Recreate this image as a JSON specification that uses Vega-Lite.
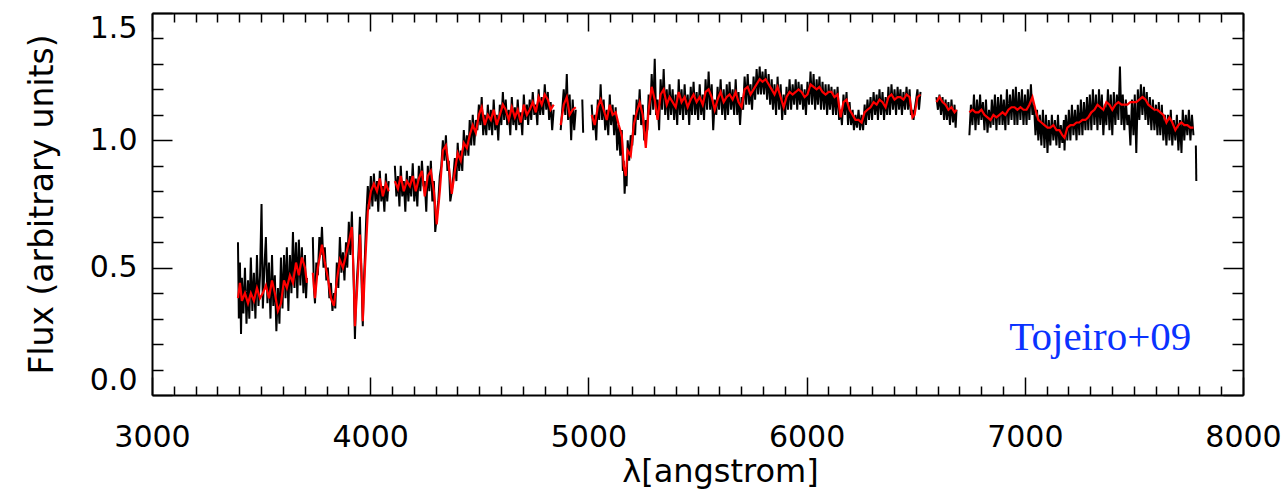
{
"$schema": "https://vega.github.io/schema/vega-lite/v6.json",
"width": 1091, "height": 382,
"autosize": "none",
"padding": {"left": 152, "top": 13, "right": 45, "bottom": 97},
"background": "white",
"config": {"view": {"stroke": null}, "font": "DejaVu Sans"},
"datasets": {
"obs": [
{"w":3394,"f":0.60,"g":1},{"w":3398,"f":0.30,"g":1},{"w":3403,"f":0.52,"g":1},{"w":3408,"f":0.24,"g":1},{"w":3412,"f":0.46,"g":1},{"w":3419,"f":0.32,"g":1},{"w":3426,"f":0.50,"g":1},{"w":3433,"f":0.28,"g":1},{"w":3440,"f":0.45,"g":1},{"w":3446,"f":0.30,"g":1},{"w":3453,"f":0.54,"g":1},{"w":3460,"f":0.33,"g":1},{"w":3467,"f":0.48,"g":1},{"w":3474,"f":0.30,"g":1},{"w":3481,"f":0.55,"g":1},{"w":3488,"f":0.35,"g":1},{"w":3495,"f":0.47,"g":1},{"w":3502,"f":0.75,"g":1},{"w":3508,"f":0.34,"g":1},{"w":3515,"f":0.50,"g":1},{"w":3522,"f":0.62,"g":1},{"w":3529,"f":0.36,"g":1},{"w":3536,"f":0.52,"g":1},{"w":3543,"f":0.30,"g":1},{"w":3550,"f":0.55,"g":1},{"w":3556,"f":0.35,"g":1},{"w":3563,"f":0.47,"g":1},{"w":3570,"f":0.25,"g":1},{"w":3577,"f":0.42,"g":1},{"w":3584,"f":0.28,"g":1},{"w":3591,"f":0.54,"g":1},{"w":3598,"f":0.34,"g":1},{"w":3605,"f":0.55,"g":1},{"w":3612,"f":0.38,"g":1},{"w":3618,"f":0.58,"g":1},{"w":3625,"f":0.33,"g":1},{"w":3632,"f":0.55,"g":1},{"w":3639,"f":0.40,"g":1},{"w":3646,"f":0.64,"g":1},{"w":3653,"f":0.42,"g":1},{"w":3660,"f":0.60,"g":1},{"w":3666,"f":0.38,"g":1},{"w":3673,"f":0.61,"g":1},{"w":3680,"f":0.43,"g":1},{"w":3687,"f":0.58,"g":1},{"w":3694,"f":0.40,"g":1},{"w":3701,"f":0.55,"g":1},{"w":3706,"f":0.38,"g":1},{"w":3710,"f":0.46,"g":1},
{"w":3737,"f":0.62,"g":2},{"w":3742,"f":0.42,"g":2},{"w":3747,"f":0.36,"g":2},{"w":3753,"f":0.52,"g":2},{"w":3760,"f":0.47,"g":2},{"w":3767,"f":0.62,"g":2},{"w":3773,"f":0.55,"g":2},{"w":3779,"f":0.66,"g":2},{"w":3786,"f":0.50,"g":2},{"w":3792,"f":0.58,"g":2},{"w":3799,"f":0.45,"g":2},{"w":3806,"f":0.50,"g":2},{"w":3813,"f":0.38,"g":2},{"w":3820,"f":0.44,"g":2},{"w":3827,"f":0.33,"g":2},{"w":3834,"f":0.40,"g":2},{"w":3840,"f":0.34,"g":2},{"w":3847,"f":0.52,"g":2},{"w":3854,"f":0.42,"g":2},{"w":3861,"f":0.62,"g":2},{"w":3868,"f":0.48,"g":2},{"w":3875,"f":0.56,"g":2},{"w":3882,"f":0.45,"g":2},{"w":3889,"f":0.60,"g":2},{"w":3895,"f":0.50,"g":2},{"w":3902,"f":0.68,"g":2},{"w":3909,"f":0.55,"g":2},{"w":3916,"f":0.72,"g":2},{"w":3920,"f":0.58,"g":2},{"w":3925,"f":0.42,"g":2},{"w":3930,"f":0.22,"g":2},{"w":3934,"f":0.35,"g":2},{"w":3939,"f":0.45,"g":2},{"w":3946,"f":0.55,"g":2},{"w":3953,"f":0.70,"g":2},{"w":3957,"f":0.55,"g":2},{"w":3962,"f":0.40,"g":2},{"w":3966,"f":0.27,"g":2},{"w":3970,"f":0.42,"g":2},{"w":3976,"f":0.55,"g":2},{"w":3982,"f":0.70,"g":2},{"w":3989,"f":0.82,"g":2},{"w":3996,"f":0.73,"g":2},{"w":4003,"f":0.86,"g":2},{"w":4010,"f":0.74,"g":2},{"w":4017,"f":0.87,"g":2},{"w":4024,"f":0.76,"g":2},{"w":4031,"f":0.84,"g":2},{"w":4037,"f":0.72,"g":2},{"w":4044,"f":0.88,"g":2},{"w":4051,"f":0.76,"g":2},{"w":4058,"f":0.82,"g":2},{"w":4065,"f":0.72,"g":2},{"w":4072,"f":0.87,"g":2},{"w":4078,"f":0.76,"g":2},{"w":4085,"f":0.84,"g":2},
{"w":4113,"f":0.90,"g":3},{"w":4120,"f":0.78,"g":3},{"w":4127,"f":0.86,"g":3},{"w":4134,"f":0.74,"g":3},{"w":4140,"f":0.90,"g":3},{"w":4147,"f":0.78,"g":3},{"w":4154,"f":0.84,"g":3},{"w":4161,"f":0.72,"g":3},{"w":4168,"f":0.88,"g":3},{"w":4175,"f":0.76,"g":3},{"w":4182,"f":0.86,"g":3},{"w":4188,"f":0.78,"g":3},{"w":4195,"f":0.91,"g":3},{"w":4202,"f":0.76,"g":3},{"w":4209,"f":0.85,"g":3},{"w":4216,"f":0.74,"g":3},{"w":4223,"f":0.90,"g":3},{"w":4230,"f":0.80,"g":3},{"w":4237,"f":0.92,"g":3},{"w":4244,"f":0.82,"g":3},{"w":4250,"f":0.84,"g":3},{"w":4257,"f":0.72,"g":3},{"w":4264,"f":0.90,"g":3},{"w":4271,"f":0.80,"g":3},{"w":4278,"f":0.92,"g":3},{"w":4285,"f":0.76,"g":3},{"w":4292,"f":0.84,"g":3},{"w":4298,"f":0.64,"g":3},{"w":4305,"f":0.70,"g":3},{"w":4312,"f":0.76,"g":3},{"w":4319,"f":0.86,"g":3},{"w":4326,"f":0.90,"g":3},{"w":4333,"f":1.00,"g":3},{"w":4340,"f":0.92,"g":3},{"w":4347,"f":1.02,"g":3},{"w":4354,"f":0.88,"g":3},{"w":4360,"f":0.92,"g":3},{"w":4367,"f":0.76,"g":3},{"w":4374,"f":0.80,"g":3},{"w":4381,"f":0.86,"g":3},{"w":4388,"f":0.93,"g":3},{"w":4395,"f":0.84,"g":3},{"w":4401,"f":0.99,"g":3},{"w":4408,"f":0.88,"g":3},{"w":4415,"f":0.96,"g":3},{"w":4422,"f":0.88,"g":3},{"w":4429,"f":1.04,"g":3},{"w":4436,"f":0.94,"g":3},{"w":4443,"f":1.02,"g":3},{"w":4450,"f":0.94,"g":3},{"w":4456,"f":1.08,"g":3},{"w":4463,"f":0.98,"g":3},{"w":4470,"f":1.10,"g":3},{"w":4477,"f":0.98,"g":3},{"w":4484,"f":1.08,"g":3},{"w":4491,"f":1.04,"g":3},{"w":4498,"f":1.14,"g":3},{"w":4505,"f":1.06,"g":3},{"w":4511,"f":1.17,"g":3},{"w":4518,"f":1.02,"g":3},{"w":4525,"f":1.10,"g":3},{"w":4532,"f":1.02,"g":3},{"w":4539,"f":1.14,"g":3},{"w":4546,"f":1.04,"g":3},{"w":4553,"f":1.12,"g":3},{"w":4559,"f":1.02,"g":3},{"w":4566,"f":1.16,"g":3},{"w":4573,"f":1.04,"g":3},{"w":4580,"f":1.10,"g":3},{"w":4587,"f":1.00,"g":3},{"w":4594,"f":1.14,"g":3},{"w":4601,"f":1.06,"g":3},{"w":4608,"f":1.19,"g":3},{"w":4614,"f":1.08,"g":3},{"w":4621,"f":1.16,"g":3},{"w":4628,"f":1.06,"g":3},{"w":4635,"f":1.12,"g":3},{"w":4642,"f":1.02,"g":3},{"w":4649,"f":1.17,"g":3},{"w":4656,"f":1.06,"g":3},{"w":4663,"f":1.13,"g":3},{"w":4669,"f":1.04,"g":3},{"w":4676,"f":1.16,"g":3},{"w":4683,"f":1.06,"g":3},{"w":4690,"f":1.11,"g":3},{"w":4697,"f":1.02,"g":3},{"w":4704,"f":1.18,"g":3},{"w":4711,"f":1.08,"g":3},{"w":4718,"f":1.14,"g":3},{"w":4724,"f":1.06,"g":3},{"w":4731,"f":1.16,"g":3},{"w":4738,"f":1.08,"g":3},{"w":4745,"f":1.19,"g":3},{"w":4752,"f":1.10,"g":3},{"w":4759,"f":1.14,"g":3},{"w":4766,"f":1.06,"g":3},{"w":4772,"f":1.20,"g":3},{"w":4779,"f":1.10,"g":3},{"w":4786,"f":1.17,"g":3},{"w":4793,"f":1.10,"g":3},{"w":4800,"f":1.22,"g":3},{"w":4807,"f":1.12,"g":3},{"w":4814,"f":1.19,"g":3},{"w":4820,"f":1.08,"g":3},{"w":4827,"f":1.15,"g":3},{"w":4834,"f":1.04,"g":3},{"w":4841,"f":1.12,"g":3},
{"w":4873,"f":1.04,"g":4},{"w":4880,"f":1.12,"g":4},{"w":4887,"f":1.20,"g":4},{"w":4894,"f":1.10,"g":4},{"w":4901,"f":1.26,"g":4},{"w":4907,"f":1.08,"g":4},{"w":4914,"f":1.18,"g":4},{"w":4921,"f":1.00,"g":4},{"w":4928,"f":1.16,"g":4},{"w":4935,"f":1.04,"g":4},{"w":4942,"f":1.12,"g":4},
{"w":4972,"f":1.16,"g":5},{"w":4976,"f":1.03,"g":5},
{"w":5015,"f":1.14,"g":6},{"w":5022,"f":1.04,"g":6},{"w":5029,"f":1.10,"g":6},{"w":5036,"f":1.00,"g":6},{"w":5043,"f":1.16,"g":6},{"w":5050,"f":1.08,"g":6},{"w":5056,"f":1.22,"g":6},{"w":5063,"f":1.08,"g":6},{"w":5070,"f":1.16,"g":6},{"w":5077,"f":1.04,"g":6},{"w":5084,"f":1.12,"g":6},{"w":5091,"f":1.02,"g":6},{"w":5098,"f":1.18,"g":6},{"w":5104,"f":1.06,"g":6},{"w":5111,"f":1.14,"g":6},{"w":5118,"f":1.02,"g":6},{"w":5125,"f":1.13,"g":6},{"w":5132,"f":0.96,"g":6},{"w":5139,"f":1.06,"g":6},{"w":5146,"f":0.94,"g":6},{"w":5153,"f":1.04,"g":6},{"w":5158,"f":0.88,"g":6},{"w":5162,"f":0.92,"g":6},{"w":5166,"f":0.79,"g":6},{"w":5171,"f":0.88,"g":6},{"w":5175,"f":0.82,"g":6},{"w":5180,"f":1.00,"g":6},{"w":5187,"f":0.92,"g":6},{"w":5194,"f":1.02,"g":6},{"w":5201,"f":0.98,"g":6},{"w":5208,"f":1.10,"g":6},{"w":5214,"f":1.02,"g":6},{"w":5221,"f":1.16,"g":6},{"w":5228,"f":1.08,"g":6},{"w":5235,"f":1.20,"g":6},{"w":5242,"f":1.06,"g":6},{"w":5249,"f":1.14,"g":6},{"w":5256,"f":1.00,"g":6},{"w":5263,"f":1.08,"g":6},{"w":5270,"f":1.04,"g":6},{"w":5276,"f":1.18,"g":6},{"w":5283,"f":1.10,"g":6},{"w":5290,"f":1.26,"g":6},{"w":5297,"f":1.12,"g":6},{"w":5304,"f":1.32,"g":6},{"w":5310,"f":1.10,"g":6},{"w":5317,"f":1.16,"g":6},{"w":5324,"f":1.04,"g":6},{"w":5331,"f":1.24,"g":6},{"w":5338,"f":1.12,"g":6},{"w":5345,"f":1.28,"g":6},{"w":5352,"f":1.10,"g":6},{"w":5359,"f":1.20,"g":6},{"w":5366,"f":1.08,"g":6},{"w":5372,"f":1.22,"g":6},{"w":5379,"f":1.10,"g":6},{"w":5386,"f":1.20,"g":6},{"w":5393,"f":1.08,"g":6},{"w":5400,"f":1.18,"g":6},{"w":5407,"f":1.06,"g":6},{"w":5414,"f":1.24,"g":6},{"w":5420,"f":1.10,"g":6},{"w":5427,"f":1.20,"g":6},{"w":5434,"f":1.08,"g":6},{"w":5441,"f":1.22,"g":6},{"w":5448,"f":1.10,"g":6},{"w":5455,"f":1.18,"g":6},{"w":5462,"f":1.06,"g":6},{"w":5469,"f":1.21,"g":6},{"w":5475,"f":1.10,"g":6},{"w":5482,"f":1.23,"g":6},{"w":5489,"f":1.10,"g":6},{"w":5496,"f":1.19,"g":6},{"w":5503,"f":1.08,"g":6},{"w":5510,"f":1.22,"g":6},{"w":5517,"f":1.10,"g":6},{"w":5524,"f":1.18,"g":6},{"w":5530,"f":1.08,"g":6},{"w":5537,"f":1.24,"g":6},{"w":5544,"f":1.12,"g":6},{"w":5551,"f":1.27,"g":6},{"w":5558,"f":1.12,"g":6},{"w":5565,"f":1.22,"g":6},{"w":5572,"f":1.04,"g":6},{"w":5579,"f":1.16,"g":6},{"w":5586,"f":1.10,"g":6},{"w":5592,"f":1.21,"g":6},{"w":5599,"f":1.12,"g":6},{"w":5606,"f":1.24,"g":6},{"w":5613,"f":1.10,"g":6},{"w":5620,"f":1.20,"g":6},{"w":5627,"f":1.08,"g":6},{"w":5634,"f":1.22,"g":6},{"w":5640,"f":1.10,"g":6},{"w":5647,"f":1.23,"g":6},{"w":5654,"f":1.12,"g":6},{"w":5661,"f":1.20,"g":6},{"w":5668,"f":1.10,"g":6},{"w":5675,"f":1.24,"g":6},{"w":5682,"f":1.10,"g":6},{"w":5688,"f":1.19,"g":6},{"w":5695,"f":1.06,"g":6},{"w":5702,"f":1.17,"g":6},{"w":5709,"f":1.12,"g":6},{"w":5716,"f":1.25,"g":6},{"w":5723,"f":1.14,"g":6},{"w":5730,"f":1.26,"g":6},{"w":5737,"f":1.14,"g":6},{"w":5743,"f":1.22,"g":6},{"w":5750,"f":1.12,"g":6},{"w":5757,"f":1.25,"g":6},{"w":5764,"f":1.16,"g":6},{"w":5771,"f":1.28,"g":6},{"w":5778,"f":1.18,"g":6},{"w":5785,"f":1.29,"g":6},{"w":5791,"f":1.18,"g":6},{"w":5798,"f":1.27,"g":6},{"w":5805,"f":1.18,"g":6},{"w":5812,"f":1.28,"g":6},{"w":5819,"f":1.16,"g":6},{"w":5826,"f":1.26,"g":6},{"w":5833,"f":1.14,"g":6},{"w":5840,"f":1.24,"g":6},{"w":5846,"f":1.12,"g":6},{"w":5853,"f":1.22,"g":6},{"w":5860,"f":1.10,"g":6},{"w":5867,"f":1.25,"g":6},{"w":5874,"f":1.12,"g":6},{"w":5881,"f":1.22,"g":6},{"w":5888,"f":1.08,"g":6},{"w":5895,"f":1.18,"g":6},{"w":5902,"f":1.10,"g":6},{"w":5908,"f":1.21,"g":6},{"w":5915,"f":1.12,"g":6},{"w":5922,"f":1.24,"g":6},{"w":5929,"f":1.12,"g":6},{"w":5936,"f":1.22,"g":6},{"w":5943,"f":1.14,"g":6},{"w":5950,"f":1.24,"g":6},{"w":5957,"f":1.12,"g":6},{"w":5963,"f":1.23,"g":6},{"w":5970,"f":1.14,"g":6},{"w":5977,"f":1.22,"g":6},{"w":5984,"f":1.12,"g":6},{"w":5991,"f":1.20,"g":6},{"w":5997,"f":1.10,"g":6},{"w":6004,"f":1.23,"g":6},{"w":6011,"f":1.14,"g":6},{"w":6018,"f":1.27,"g":6},{"w":6025,"f":1.14,"g":6},{"w":6032,"f":1.26,"g":6},{"w":6039,"f":1.12,"g":6},{"w":6046,"f":1.24,"g":6},{"w":6052,"f":1.14,"g":6},{"w":6059,"f":1.25,"g":6},{"w":6066,"f":1.12,"g":6},{"w":6073,"f":1.23,"g":6},{"w":6080,"f":1.12,"g":6},{"w":6087,"f":1.22,"g":6},{"w":6094,"f":1.10,"g":6},{"w":6101,"f":1.22,"g":6},{"w":6107,"f":1.12,"g":6},{"w":6114,"f":1.21,"g":6},{"w":6121,"f":1.10,"g":6},{"w":6128,"f":1.20,"g":6},{"w":6135,"f":1.10,"g":6},{"w":6142,"f":1.21,"g":6},{"w":6149,"f":1.08,"g":6},{"w":6156,"f":1.12,"g":6},{"w":6162,"f":1.06,"g":6},{"w":6169,"f":1.18,"g":6},{"w":6176,"f":1.10,"g":6},{"w":6183,"f":1.19,"g":6},{"w":6190,"f":1.06,"g":6},{"w":6197,"f":1.15,"g":6},{"w":6204,"f":1.06,"g":6},{"w":6211,"f":1.12,"g":6},{"w":6217,"f":1.04,"g":6},{"w":6224,"f":1.10,"g":6},{"w":6231,"f":1.05,"g":6},{"w":6238,"f":1.12,"g":6},{"w":6245,"f":1.04,"g":6},{"w":6252,"f":1.10,"g":6},{"w":6259,"f":1.04,"g":6},{"w":6266,"f":1.14,"g":6},{"w":6272,"f":1.06,"g":6},{"w":6279,"f":1.16,"g":6},{"w":6286,"f":1.08,"g":6},{"w":6293,"f":1.17,"g":6},{"w":6300,"f":1.08,"g":6},{"w":6307,"f":1.19,"g":6},{"w":6314,"f":1.10,"g":6},{"w":6321,"f":1.18,"g":6},{"w":6327,"f":1.08,"g":6},{"w":6334,"f":1.20,"g":6},{"w":6341,"f":1.10,"g":6},{"w":6348,"f":1.19,"g":6},{"w":6355,"f":1.08,"g":6},{"w":6362,"f":1.17,"g":6},{"w":6369,"f":1.10,"g":6},{"w":6375,"f":1.21,"g":6},{"w":6382,"f":1.10,"g":6},{"w":6389,"f":1.22,"g":6},{"w":6396,"f":1.12,"g":6},{"w":6403,"f":1.20,"g":6},{"w":6410,"f":1.10,"g":6},{"w":6417,"f":1.21,"g":6},{"w":6424,"f":1.12,"g":6},{"w":6430,"f":1.20,"g":6},{"w":6437,"f":1.10,"g":6},{"w":6444,"f":1.19,"g":6},{"w":6451,"f":1.12,"g":6},{"w":6458,"f":1.21,"g":6},{"w":6465,"f":1.12,"g":6},{"w":6472,"f":1.20,"g":6},{"w":6478,"f":1.10,"g":6},{"w":6485,"f":1.12,"g":6},{"w":6490,"f":1.08,"g":6},{"w":6495,"f":1.12,"g":6},{"w":6502,"f":1.16,"g":6},{"w":6508,"f":1.20,"g":6},{"w":6515,"f":1.12,"g":6},{"w":6522,"f":1.19,"g":6},
{"w":6595,"f":1.17,"g":7},{"w":6602,"f":1.12,"g":7},{"w":6609,"f":1.18,"g":7},{"w":6616,"f":1.10,"g":7},{"w":6623,"f":1.17,"g":7},{"w":6630,"f":1.08,"g":7},{"w":6637,"f":1.16,"g":7},{"w":6643,"f":1.08,"g":7},{"w":6650,"f":1.15,"g":7},{"w":6657,"f":1.06,"g":7},{"w":6664,"f":1.16,"g":7},{"w":6671,"f":1.07,"g":7},{"w":6678,"f":1.14,"g":7},{"w":6683,"f":1.05,"g":7},{"w":6687,"f":1.12,"g":7},
{"w":6746,"f":1.02,"g":8},{"w":6753,"f":1.14,"g":8},{"w":6760,"f":1.06,"g":8},{"w":6767,"f":1.18,"g":8},{"w":6774,"f":1.04,"g":8},{"w":6781,"f":1.16,"g":8},{"w":6788,"f":1.06,"g":8},{"w":6795,"f":1.18,"g":8},{"w":6801,"f":1.08,"g":8},{"w":6808,"f":1.15,"g":8},{"w":6815,"f":1.04,"g":8},{"w":6822,"f":1.16,"g":8},{"w":6829,"f":1.03,"g":8},{"w":6836,"f":1.12,"g":8},{"w":6843,"f":1.05,"g":8},{"w":6849,"f":1.16,"g":8},{"w":6856,"f":1.06,"g":8},{"w":6863,"f":1.18,"g":8},{"w":6870,"f":1.04,"g":8},{"w":6877,"f":1.17,"g":8},{"w":6884,"f":1.06,"g":8},{"w":6891,"f":1.18,"g":8},{"w":6898,"f":1.06,"g":8},{"w":6904,"f":1.16,"g":8},{"w":6911,"f":1.04,"g":8},{"w":6918,"f":1.20,"g":8},{"w":6925,"f":1.06,"g":8},{"w":6932,"f":1.18,"g":8},{"w":6939,"f":1.08,"g":8},{"w":6946,"f":1.20,"g":8},{"w":6953,"f":1.06,"g":8},{"w":6959,"f":1.21,"g":8},{"w":6966,"f":1.06,"g":8},{"w":6973,"f":1.19,"g":8},{"w":6980,"f":1.08,"g":8},{"w":6987,"f":1.20,"g":8},{"w":6994,"f":1.06,"g":8},{"w":7001,"f":1.18,"g":8},{"w":7008,"f":1.06,"g":8},{"w":7014,"f":1.20,"g":8},{"w":7021,"f":1.08,"g":8},{"w":7028,"f":1.22,"g":8},{"w":7035,"f":1.10,"g":8},{"w":7042,"f":1.14,"g":8},{"w":7049,"f":1.02,"g":8},{"w":7056,"f":1.12,"g":8},{"w":7062,"f":1.00,"g":8},{"w":7069,"f":1.10,"g":8},{"w":7076,"f":0.98,"g":8},{"w":7083,"f":1.12,"g":8},{"w":7090,"f":0.97,"g":8},{"w":7097,"f":1.10,"g":8},{"w":7104,"f":0.95,"g":8},{"w":7110,"f":1.08,"g":8},{"w":7117,"f":0.98,"g":8},{"w":7124,"f":1.10,"g":8},{"w":7131,"f":1.00,"g":8},{"w":7138,"f":1.08,"g":8},{"w":7145,"f":0.98,"g":8},{"w":7152,"f":1.10,"g":8},{"w":7159,"f":0.97,"g":8},{"w":7165,"f":1.06,"g":8},{"w":7172,"f":0.99,"g":8},{"w":7179,"f":1.08,"g":8},{"w":7182,"f":0.96,"g":8},{"w":7188,"f":1.10,"g":8},{"w":7195,"f":1.00,"g":8},{"w":7202,"f":1.12,"g":8},{"w":7209,"f":1.00,"g":8},{"w":7216,"f":1.14,"g":8},{"w":7223,"f":1.02,"g":8},{"w":7230,"f":1.12,"g":8},{"w":7237,"f":1.00,"g":8},{"w":7243,"f":1.14,"g":8},{"w":7250,"f":1.02,"g":8},{"w":7257,"f":1.16,"g":8},{"w":7264,"f":1.02,"g":8},{"w":7271,"f":1.15,"g":8},{"w":7278,"f":1.04,"g":8},{"w":7285,"f":1.17,"g":8},{"w":7291,"f":1.04,"g":8},{"w":7298,"f":1.18,"g":8},{"w":7305,"f":1.04,"g":8},{"w":7312,"f":1.20,"g":8},{"w":7319,"f":1.06,"g":8},{"w":7326,"f":1.18,"g":8},{"w":7333,"f":1.04,"g":8},{"w":7340,"f":1.20,"g":8},{"w":7346,"f":1.06,"g":8},{"w":7353,"f":1.18,"g":8},{"w":7360,"f":1.02,"g":8},{"w":7367,"f":1.14,"g":8},{"w":7374,"f":1.06,"g":8},{"w":7381,"f":1.20,"g":8},{"w":7388,"f":1.04,"g":8},{"w":7394,"f":1.18,"g":8},{"w":7401,"f":1.02,"g":8},{"w":7408,"f":1.19,"g":8},{"w":7415,"f":1.06,"g":8},{"w":7422,"f":1.18,"g":8},{"w":7429,"f":1.08,"g":8},{"w":7436,"f":1.29,"g":8},{"w":7443,"f":1.06,"g":8},{"w":7449,"f":1.18,"g":8},{"w":7456,"f":1.04,"g":8},{"w":7463,"f":1.16,"g":8},{"w":7470,"f":1.06,"g":8},{"w":7477,"f":1.10,"g":8},{"w":7484,"f":0.98,"g":8},{"w":7491,"f":1.16,"g":8},{"w":7498,"f":1.02,"g":8},{"w":7504,"f":1.18,"g":8},{"w":7511,"f":0.95,"g":8},{"w":7518,"f":1.20,"g":8},{"w":7525,"f":1.08,"g":8},{"w":7532,"f":1.22,"g":8},{"w":7539,"f":1.10,"g":8},{"w":7546,"f":1.21,"g":8},{"w":7553,"f":1.08,"g":8},{"w":7559,"f":1.19,"g":8},{"w":7566,"f":1.06,"g":8},{"w":7573,"f":1.17,"g":8},{"w":7580,"f":1.04,"g":8},{"w":7587,"f":1.16,"g":8},{"w":7594,"f":1.04,"g":8},{"w":7601,"f":1.14,"g":8},{"w":7608,"f":1.02,"g":8},{"w":7614,"f":1.15,"g":8},{"w":7621,"f":1.02,"g":8},{"w":7628,"f":1.14,"g":8},{"w":7635,"f":1.00,"g":8},{"w":7642,"f":1.10,"g":8},{"w":7649,"f":0.98,"g":8},{"w":7656,"f":1.10,"g":8},{"w":7663,"f":1.00,"g":8},{"w":7669,"f":1.12,"g":8},{"w":7676,"f":0.98,"g":8},{"w":7683,"f":1.08,"g":8},{"w":7690,"f":1.00,"g":8},{"w":7697,"f":1.10,"g":8},{"w":7704,"f":0.96,"g":8},{"w":7711,"f":1.08,"g":8},{"w":7718,"f":0.95,"g":8},{"w":7724,"f":1.12,"g":8},{"w":7731,"f":1.00,"g":8},{"w":7738,"f":1.10,"g":8},{"w":7745,"f":1.02,"g":8},{"w":7752,"f":1.12,"g":8},{"w":7759,"f":1.00,"g":8},{"w":7766,"f":1.10,"g":8},{"w":7773,"f":1.02,"g":8},
{"w":7784,"f":0.98,"g":9},{"w":7786,"f":0.84,"g":9}
],
"mod": [
{"w":3394,"f":0.38,"g":1},{"w":3403,"f":0.44,"g":1},{"w":3412,"f":0.37,"g":1},{"w":3426,"f":0.40,"g":1},{"w":3440,"f":0.36,"g":1},{"w":3453,"f":0.40,"g":1},{"w":3467,"f":0.37,"g":1},{"w":3481,"f":0.42,"g":1},{"w":3495,"f":0.38,"g":1},{"w":3508,"f":0.40,"g":1},{"w":3522,"f":0.43,"g":1},{"w":3536,"f":0.38,"g":1},{"w":3550,"f":0.45,"g":1},{"w":3563,"f":0.40,"g":1},{"w":3577,"f":0.33,"g":1},{"w":3591,"f":0.36,"g":1},{"w":3605,"f":0.45,"g":1},{"w":3618,"f":0.42,"g":1},{"w":3632,"f":0.47,"g":1},{"w":3646,"f":0.44,"g":1},{"w":3660,"f":0.52,"g":1},{"w":3673,"f":0.47,"g":1},{"w":3687,"f":0.54,"g":1},{"w":3701,"f":0.50,"g":1},{"w":3710,"f":0.44,"g":1},
{"w":3737,"f":0.48,"g":2},{"w":3747,"f":0.38,"g":2},{"w":3760,"f":0.50,"g":2},{"w":3779,"f":0.59,"g":2},{"w":3792,"f":0.52,"g":2},{"w":3806,"f":0.46,"g":2},{"w":3820,"f":0.38,"g":2},{"w":3834,"f":0.35,"g":2},{"w":3847,"f":0.45,"g":2},{"w":3861,"f":0.53,"g":2},{"w":3875,"f":0.50,"g":2},{"w":3889,"f":0.55,"g":2},{"w":3902,"f":0.60,"g":2},{"w":3916,"f":0.66,"g":2},{"w":3925,"f":0.45,"g":2},{"w":3930,"f":0.27,"g":2},{"w":3939,"f":0.40,"g":2},{"w":3953,"f":0.63,"g":2},{"w":3962,"f":0.45,"g":2},{"w":3966,"f":0.29,"g":2},{"w":3976,"f":0.50,"g":2},{"w":3989,"f":0.72,"g":2},{"w":4003,"f":0.80,"g":2},{"w":4017,"f":0.83,"g":2},{"w":4031,"f":0.80,"g":2},{"w":4044,"f":0.85,"g":2},{"w":4058,"f":0.78,"g":2},{"w":4072,"f":0.83,"g":2},{"w":4085,"f":0.80,"g":2},
{"w":4113,"f":0.84,"g":3},{"w":4127,"f":0.81,"g":3},{"w":4140,"f":0.86,"g":3},{"w":4154,"f":0.80,"g":3},{"w":4168,"f":0.84,"g":3},{"w":4182,"f":0.82,"g":3},{"w":4195,"f":0.86,"g":3},{"w":4209,"f":0.80,"g":3},{"w":4223,"f":0.85,"g":3},{"w":4237,"f":0.88,"g":3},{"w":4250,"f":0.78,"g":3},{"w":4264,"f":0.86,"g":3},{"w":4278,"f":0.88,"g":3},{"w":4292,"f":0.80,"g":3},{"w":4305,"f":0.67,"g":3},{"w":4319,"f":0.80,"g":3},{"w":4333,"f":0.96,"g":3},{"w":4347,"f":0.98,"g":3},{"w":4360,"f":0.90,"g":3},{"w":4374,"f":0.79,"g":3},{"w":4388,"f":0.88,"g":3},{"w":4401,"f":0.95,"g":3},{"w":4415,"f":0.92,"g":3},{"w":4429,"f":0.99,"g":3},{"w":4443,"f":0.97,"g":3},{"w":4456,"f":1.02,"g":3},{"w":4470,"f":1.06,"g":3},{"w":4484,"f":1.03,"g":3},{"w":4498,"f":1.10,"g":3},{"w":4511,"f":1.13,"g":3},{"w":4525,"f":1.06,"g":3},{"w":4539,"f":1.10,"g":3},{"w":4553,"f":1.08,"g":3},{"w":4566,"f":1.12,"g":3},{"w":4580,"f":1.06,"g":3},{"w":4594,"f":1.10,"g":3},{"w":4608,"f":1.14,"g":3},{"w":4621,"f":1.12,"g":3},{"w":4635,"f":1.08,"g":3},{"w":4649,"f":1.13,"g":3},{"w":4663,"f":1.09,"g":3},{"w":4676,"f":1.12,"g":3},{"w":4690,"f":1.07,"g":3},{"w":4704,"f":1.14,"g":3},{"w":4718,"f":1.10,"g":3},{"w":4731,"f":1.12,"g":3},{"w":4745,"f":1.15,"g":3},{"w":4759,"f":1.11,"g":3},{"w":4772,"f":1.17,"g":3},{"w":4786,"f":1.14,"g":3},{"w":4800,"f":1.18,"g":3},{"w":4814,"f":1.16,"g":3},{"w":4827,"f":1.12,"g":3},{"w":4841,"f":1.14,"g":3},
{"w":4873,"f":1.06,"g":4},{"w":4887,"f":1.14,"g":4},{"w":4901,"f":1.17,"g":4},{"w":4914,"f":1.10,"g":4},{"w":4928,"f":1.12,"g":4},{"w":4942,"f":1.13,"g":4},
{"w":5015,"f":1.10,"g":6},{"w":5029,"f":1.06,"g":6},{"w":5043,"f":1.13,"g":6},{"w":5056,"f":1.16,"g":6},{"w":5070,"f":1.12,"g":6},{"w":5084,"f":1.08,"g":6},{"w":5098,"f":1.14,"g":6},{"w":5111,"f":1.10,"g":6},{"w":5125,"f":1.11,"g":6},{"w":5139,"f":1.06,"g":6},{"w":5153,"f":1.02,"g":6},{"w":5162,"f":0.90,"g":6},{"w":5171,"f":0.86,"g":6},{"w":5180,"f":0.96,"g":6},{"w":5194,"f":0.94,"g":6},{"w":5208,"f":1.06,"g":6},{"w":5221,"f":1.11,"g":6},{"w":5235,"f":1.15,"g":6},{"w":5249,"f":1.10,"g":6},{"w":5263,"f":0.97,"g":6},{"w":5276,"f":1.12,"g":6},{"w":5290,"f":1.21,"g":6},{"w":5304,"f":1.16,"g":6},{"w":5317,"f":1.08,"g":6},{"w":5331,"f":1.18,"g":6},{"w":5345,"f":1.20,"g":6},{"w":5359,"f":1.14,"g":6},{"w":5372,"f":1.17,"g":6},{"w":5386,"f":1.15,"g":6},{"w":5400,"f":1.13,"g":6},{"w":5414,"f":1.19,"g":6},{"w":5427,"f":1.15,"g":6},{"w":5441,"f":1.17,"g":6},{"w":5455,"f":1.13,"g":6},{"w":5469,"f":1.16,"g":6},{"w":5482,"f":1.18,"g":6},{"w":5496,"f":1.15,"g":6},{"w":5510,"f":1.17,"g":6},{"w":5524,"f":1.14,"g":6},{"w":5537,"f":1.19,"g":6},{"w":5551,"f":1.20,"g":6},{"w":5565,"f":1.17,"g":6},{"w":5579,"f":1.12,"g":6},{"w":5592,"f":1.16,"g":6},{"w":5606,"f":1.19,"g":6},{"w":5620,"f":1.15,"g":6},{"w":5634,"f":1.17,"g":6},{"w":5647,"f":1.18,"g":6},{"w":5661,"f":1.16,"g":6},{"w":5675,"f":1.19,"g":6},{"w":5688,"f":1.15,"g":6},{"w":5702,"f":1.13,"g":6},{"w":5716,"f":1.20,"g":6},{"w":5730,"f":1.21,"g":6},{"w":5743,"f":1.18,"g":6},{"w":5757,"f":1.20,"g":6},{"w":5771,"f":1.22,"g":6},{"w":5785,"f":1.24,"g":6},{"w":5798,"f":1.23,"g":6},{"w":5812,"f":1.24,"g":6},{"w":5826,"f":1.22,"g":6},{"w":5840,"f":1.20,"g":6},{"w":5853,"f":1.18,"g":6},{"w":5867,"f":1.21,"g":6},{"w":5881,"f":1.17,"g":6},{"w":5895,"f":1.13,"g":6},{"w":5908,"f":1.17,"g":6},{"w":5922,"f":1.19,"g":6},{"w":5936,"f":1.18,"g":6},{"w":5950,"f":1.19,"g":6},{"w":5963,"f":1.20,"g":6},{"w":5977,"f":1.19,"g":6},{"w":5991,"f":1.17,"g":6},{"w":6004,"f":1.18,"g":6},{"w":6018,"f":1.22,"g":6},{"w":6032,"f":1.21,"g":6},{"w":6046,"f":1.20,"g":6},{"w":6059,"f":1.21,"g":6},{"w":6073,"f":1.19,"g":6},{"w":6087,"f":1.18,"g":6},{"w":6101,"f":1.19,"g":6},{"w":6114,"f":1.19,"g":6},{"w":6128,"f":1.17,"g":6},{"w":6142,"f":1.18,"g":6},{"w":6156,"f":1.09,"g":6},{"w":6169,"f":1.15,"g":6},{"w":6183,"f":1.16,"g":6},{"w":6197,"f":1.12,"g":6},{"w":6211,"f":1.10,"g":6},{"w":6224,"f":1.08,"g":6},{"w":6238,"f":1.08,"g":6},{"w":6252,"f":1.07,"g":6},{"w":6266,"f":1.11,"g":6},{"w":6279,"f":1.12,"g":6},{"w":6293,"f":1.13,"g":6},{"w":6307,"f":1.15,"g":6},{"w":6321,"f":1.14,"g":6},{"w":6334,"f":1.16,"g":6},{"w":6348,"f":1.15,"g":6},{"w":6362,"f":1.13,"g":6},{"w":6375,"f":1.17,"g":6},{"w":6389,"f":1.18,"g":6},{"w":6403,"f":1.16,"g":6},{"w":6417,"f":1.17,"g":6},{"w":6430,"f":1.17,"g":6},{"w":6444,"f":1.16,"g":6},{"w":6458,"f":1.18,"g":6},{"w":6472,"f":1.17,"g":6},{"w":6485,"f":1.09,"g":6},{"w":6495,"f":1.10,"g":6},{"w":6508,"f":1.17,"g":6},{"w":6522,"f":1.18,"g":6},
{"w":6595,"f":1.15,"g":7},{"w":6609,"f":1.17,"g":7},{"w":6623,"f":1.15,"g":7},{"w":6637,"f":1.14,"g":7},{"w":6650,"f":1.12,"g":7},{"w":6664,"f":1.13,"g":7},{"w":6678,"f":1.11,"g":7},{"w":6687,"f":1.12,"g":7},
{"w":6746,"f":1.11,"g":8},{"w":6760,"f":1.12,"g":8},{"w":6774,"f":1.11,"g":8},{"w":6788,"f":1.11,"g":8},{"w":6801,"f":1.12,"g":8},{"w":6815,"f":1.10,"g":8},{"w":6829,"f":1.09,"g":8},{"w":6843,"f":1.08,"g":8},{"w":6856,"f":1.10,"g":8},{"w":6870,"f":1.09,"g":8},{"w":6884,"f":1.10,"g":8},{"w":6898,"f":1.11,"g":8},{"w":6911,"f":1.10,"g":8},{"w":6925,"f":1.12,"g":8},{"w":6939,"f":1.13,"g":8},{"w":6953,"f":1.13,"g":8},{"w":6966,"f":1.12,"g":8},{"w":6980,"f":1.13,"g":8},{"w":6994,"f":1.12,"g":8},{"w":7008,"f":1.12,"g":8},{"w":7021,"f":1.14,"g":8},{"w":7035,"f":1.17,"g":8},{"w":7049,"f":1.12,"g":8},{"w":7062,"f":1.08,"g":8},{"w":7076,"f":1.07,"g":8},{"w":7090,"f":1.06,"g":8},{"w":7104,"f":1.05,"g":8},{"w":7117,"f":1.05,"g":8},{"w":7131,"f":1.06,"g":8},{"w":7145,"f":1.04,"g":8},{"w":7159,"f":1.04,"g":8},{"w":7172,"f":1.02,"g":8},{"w":7182,"f":1.01,"g":8},{"w":7195,"f":1.05,"g":8},{"w":7209,"f":1.06,"g":8},{"w":7223,"f":1.06,"g":8},{"w":7237,"f":1.07,"g":8},{"w":7250,"f":1.07,"g":8},{"w":7264,"f":1.08,"g":8},{"w":7278,"f":1.08,"g":8},{"w":7291,"f":1.09,"g":8},{"w":7305,"f":1.11,"g":8},{"w":7319,"f":1.12,"g":8},{"w":7333,"f":1.14,"g":8},{"w":7346,"f":1.13,"g":8},{"w":7360,"f":1.12,"g":8},{"w":7374,"f":1.15,"g":8},{"w":7388,"f":1.14,"g":8},{"w":7401,"f":1.12,"g":8},{"w":7415,"f":1.14,"g":8},{"w":7429,"f":1.15,"g":8},{"w":7443,"f":1.14,"g":8},{"w":7456,"f":1.14,"g":8},{"w":7470,"f":1.14,"g":8},{"w":7484,"f":1.15,"g":8},{"w":7498,"f":1.15,"g":8},{"w":7511,"f":1.15,"g":8},{"w":7525,"f":1.16,"g":8},{"w":7539,"f":1.17,"g":8},{"w":7553,"f":1.16,"g":8},{"w":7566,"f":1.14,"g":8},{"w":7580,"f":1.13,"g":8},{"w":7594,"f":1.12,"g":8},{"w":7608,"f":1.12,"g":8},{"w":7621,"f":1.11,"g":8},{"w":7635,"f":1.10,"g":8},{"w":7649,"f":1.07,"g":8},{"w":7663,"f":1.09,"g":8},{"w":7676,"f":1.07,"g":8},{"w":7690,"f":1.04,"g":8},{"w":7704,"f":1.06,"g":8},{"w":7718,"f":1.07,"g":8},{"w":7731,"f":1.06,"g":8},{"w":7745,"f":1.06,"g":8},{"w":7759,"f":1.05,"g":8},{"w":7773,"f":1.05,"g":8}
],
"note": [{"w": 7763, "f": 0.177, "t": "Tojeiro+09"}]
},
"resolve": {"axis": {"x": "independent", "y": "independent"}},
"layer": [
{
"data": {"name": "obs"},
"mark": {"type": "line", "color": "#000000", "strokeWidth": 2},
"encoding": {
"x": {"field": "w", "type": "quantitative", "scale": {"domain": [3000, 8000], "nice": false, "zero": false},
 "axis": {"orient": "bottom", "values": [3000,3100,3200,3300,3400,3500,3600,3700,3800,3900,4000,4100,4200,4300,4400,4500,4600,4700,4800,4900,5000,5100,5200,5300,5400,5500,5600,5700,5800,5900,6000,6100,6200,6300,6400,6500,6600,6700,6800,6900,7000,7100,7200,7300,7400,7500,7600,7700,7800,7900,8000],
  "format": "d", "labelExpr": "datum.value % 1000 === 0 ? datum.label : ''",
  "tickSize": {"condition": {"test": "datum.value % 1000 === 0", "value": -18}, "value": -9},
  "tickColor": "#000000", "tickWidth": 1.5, "domainColor": "#000000", "domainWidth": 2, "grid": false,
  "labelFont": "DejaVu Sans", "labelFontSize": 30, "labelColor": "#000000", "labelPadding": 45, "labelFlush": false, "labelOverlap": false, "labelBound": false,
  "title": "λ[angstrom]", "titleFont": "DejaVu Sans", "titleFontSize": 32, "titleFontWeight": "normal", "titleColor": "#000000", "titlePadding": -5, "titleX": 568}},
"y": {"field": "f", "type": "quantitative", "scale": {"domain": [0, 1.5], "nice": false, "zero": false},
 "axis": {"orient": "left", "values": [0,0.1,0.2,0.3,0.4,0.5,0.6,0.7,0.8,0.9,1,1.1,1.2,1.3,1.4,1.5],
  "format": ".1f", "labelExpr": "abs(datum.value*2 - round(datum.value*2)) < 0.001 ? datum.label : ''",
  "tickSize": {"condition": {"test": "abs(datum.value*2 - round(datum.value*2)) < 0.001", "value": -20}, "value": -11},
  "tickColor": "#000000", "tickWidth": 1.5, "domainColor": "#000000", "domainWidth": 2, "grid": false,
  "labelFont": "DejaVu Sans", "labelFontSize": 30, "labelColor": "#000000", "labelPadding": 35, "labelFlush": true, "labelOverlap": false, "labelBound": false,
  "title": "Flux (arbitrary units)", "titleFont": "DejaVu Sans", "titleFontSize": 33, "titleFontWeight": "normal", "titleColor": "#000000", "titlePadding": 30}},
"detail": {"field": "g", "type": "nominal"}
}
},
{
"data": {"name": "mod"},
"mark": {"type": "line", "color": "#ff0000", "strokeWidth": 2.2},
"encoding": {
"x": {"field": "w", "type": "quantitative", "scale": {"domain": [3000, 8000], "nice": false, "zero": false},
 "axis": {"orient": "top", "values": [3000,3100,3200,3300,3400,3500,3600,3700,3800,3900,4000,4100,4200,4300,4400,4500,4600,4700,4800,4900,5000,5100,5200,5300,5400,5500,5600,5700,5800,5900,6000,6100,6200,6300,6400,6500,6600,6700,6800,6900,7000,7100,7200,7300,7400,7500,7600,7700,7800,7900,8000],
  "labels": false, "title": null,
  "tickSize": {"condition": {"test": "datum.value % 1000 === 0", "value": -18}, "value": -9},
  "tickColor": "#000000", "tickWidth": 1.5, "domainColor": "#000000", "domainWidth": 2, "grid": false}},
"y": {"field": "f", "type": "quantitative", "scale": {"domain": [0, 1.5], "nice": false, "zero": false},
 "axis": {"orient": "right", "values": [0,0.1,0.2,0.3,0.4,0.5,0.6,0.7,0.8,0.9,1,1.1,1.2,1.3,1.4,1.5],
  "labels": false, "title": null,
  "tickSize": {"condition": {"test": "abs(datum.value*2 - round(datum.value*2)) < 0.001", "value": -20}, "value": -11},
  "tickColor": "#000000", "tickWidth": 1.5, "domainColor": "#000000", "domainWidth": 2, "grid": false}},
"detail": {"field": "g", "type": "nominal"}
}
},
{
"data": {"name": "note"},
"mark": {"type": "text", "align": "right", "baseline": "alphabetic", "font": "Liberation Serif", "fontSize": 41, "color": "#0a32ff"},
"encoding": {
"x": {"field": "w", "type": "quantitative", "scale": {"domain": [3000, 8000], "nice": false, "zero": false}, "axis": null},
"y": {"field": "f", "type": "quantitative", "scale": {"domain": [0, 1.5], "nice": false, "zero": false}, "axis": null},
"text": {"field": "t", "type": "nominal"}
}
}
]
}
